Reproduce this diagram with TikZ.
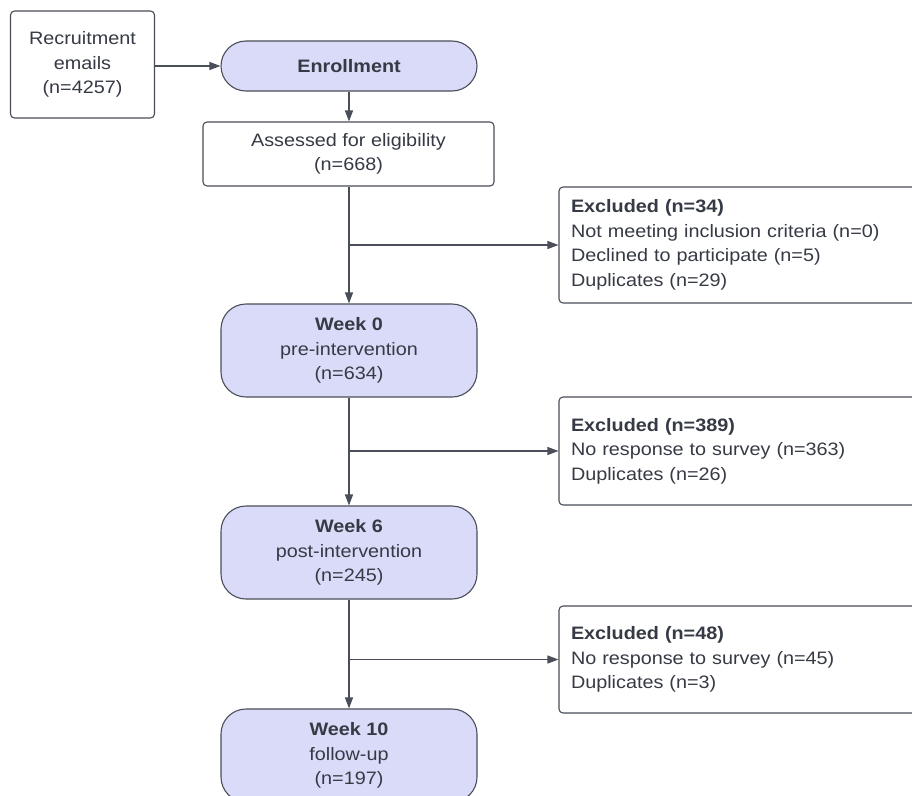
\documentclass[tikz,border=0pt]{standalone}
\usepackage{fontspec}
\setmainfont[FakeStretch=1.1]{Liberation Sans}
\usetikzlibrary{arrows.meta}
\definecolor{txt}{HTML}{363A44}
\definecolor{edge}{HTML}{4A4E58}
\definecolor{lav}{HTML}{D9DBF8}
\tikzset{
  base/.style={draw=edge, line width=1.1pt, text=txt, align=center, inner sep=0pt,
    font=\fontsize{18}{24.5}\selectfont},
  plainbox/.style={base, rounded corners=4pt},
  stadium/.style={base, fill=lav, rounded corners=25pt, minimum width=256pt},
  exbox/.style={base, rounded corners=4pt, align=left, text width=347pt, inner xsep=12pt,
    minimum width=371pt},
  conn/.style={draw=edge, line width=1.1pt, -{Triangle[length=11pt,width=8pt]}},
}
\begin{document}
\begin{tikzpicture}[x=1pt,y=-1pt]
\useasboundingbox (0,0) rectangle (912,795);
\clip (0,0) rectangle (912,795);
\fill[white] (0,0) rectangle (912,795);

\node[plainbox, minimum width=144pt, minimum height=107pt] (rec) at (82.5,64.5)
  {Recruitment\\emails\\(n=4257)};
\node[stadium, minimum height=50pt] (enr) at (349,66) {\textbf{Enrollment}};
\node[plainbox, minimum width=291pt, minimum height=64pt] (ass) at (348.5,154)
  {Assessed for eligibility\\(n=668)};
\node[stadium, minimum height=93pt] (w0) at (349,350.5)
  {\textbf{Week 0}\\pre-intervention\\(n=634)};
\node[stadium, minimum height=93pt] (w6) at (349,552.5)
  {\textbf{Week 6}\\post-intervention\\(n=245)};
\node[stadium, minimum height=93pt] (w10) at (349,755.5)
  {\textbf{Week 10}\\follow-up\\(n=197)};

\node[exbox, minimum height=116pt] (ex1) at (744.5,245)
  {\textbf{Excluded (n=34)}\\Not meeting inclusion criteria (n=0)\\Declined to participate (n=5)\\Duplicates (n=29)};
\node[exbox, minimum height=108pt] (ex2) at (744.5,451)
  {\textbf{Excluded (n=389)}\\No response to survey (n=363)\\Duplicates (n=26)};
\node[exbox, minimum height=107pt] (ex3) at (744.5,659.5)
  {\textbf{Excluded (n=48)}\\No response to survey (n=45)\\Duplicates (n=3)};

\draw[conn] (rec.east |- enr.west) -- (enr.west);
\draw[conn] (enr.south) -- (enr.south |- ass.north);
\draw[conn] (enr.south |- ass.south) -- (enr.south |- w0.north);
\draw[conn] (enr.south |- ex1.west) -- (ex1.west);
\draw[conn] (w0.south) -- (w6.north);
\draw[conn] (w0.south |- ex2.west) -- (ex2.west);
\draw[conn] (w6.south) -- (w10.north);
\draw[conn] (w6.south |- ex3.west) -- (ex3.west);
\end{tikzpicture}
\end{document}
